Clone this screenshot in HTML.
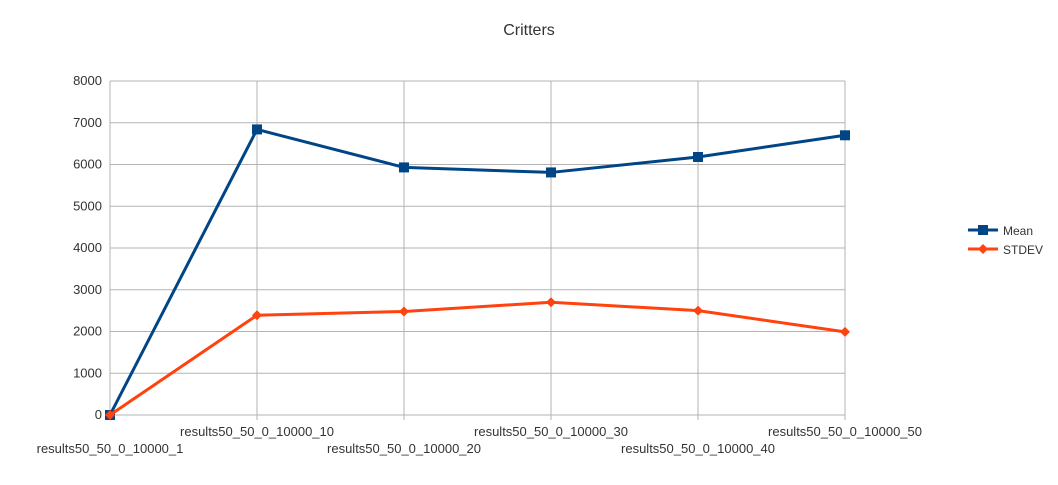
<!DOCTYPE html>
<html><head><meta charset="utf-8"><style>
body{margin:0;background:#fff;font-family:"Liberation Sans",sans-serif;}
svg text{font-family:"Liberation Sans",sans-serif;}
</style></head><body>
<svg id="chart" width="1058" height="480">
<rect width="1058" height="480" fill="#fff"/>
<text x="529" y="35" text-anchor="middle" font-size="16" fill="#333">Critters</text>
<g id="grid"></g><g id="axes"></g><g id="series"></g>
<g>
<g>
<line x1="968" y1="230" x2="998" y2="230" stroke="#004586" stroke-width="3"/>
<rect x="978" y="225" width="10" height="10" fill="#004586"/>
<text x="1003" y="235" font-size="12" fill="#333">Mean</text></g>
<g>
<line x1="968" y1="249" x2="998" y2="249" stroke="#ff420e" stroke-width="3"/>
<polygon points="983,244 988,249 983,254 978,249" fill="#ff420e"/>
<text x="1003" y="254" font-size="12" fill="#333">STDEV</text></g>
</g>
</svg>
<script>
const categories=["results50_50_0_10000_1","results50_50_0_10000_10","results50_50_0_10000_20","results50_50_0_10000_30","results50_50_0_10000_40","results50_50_0_10000_50"];
const meanValues=[0,6840,5930,5810,6180,6700];
const stdevValues=[0,2390,2480,2700,2500,1990];
const yTicks=[0,1000,2000,3000,4000,5000,6000,7000,8000];
const NS="http://www.w3.org/2000/svg";
const x0=110,x1=845,yb=415,yt=81,yMax=8000;
const xPos=i=>x0+i*(x1-x0)/(categories.length-1);
const yPos=v=>yb-v/yMax*(yb-yt);
function mk(tag,attrs,parent){const e=document.createElementNS(NS,tag);for(const k in attrs)e.setAttribute(k,attrs[k]);parent.appendChild(e);return e;}
const grid=document.getElementById('grid'),axes=document.getElementById('axes'),ser=document.getElementById('series');
yTicks.forEach(t=>{
 const l=mk('line',{x1:x0,x2:x1,y1:yPos(t),y2:yPos(t),stroke:'#b3b3b3','stroke-width':1},grid);
 
 
 const tx=mk('text',{x:x0-8,y:yPos(t)+4,'text-anchor':'end','font-size':13,fill:'#333'},axes);
 tx.textContent=t;
 
 
});
categories.forEach((c,i)=>{
 const l=mk('line',{x1:xPos(i),x2:xPos(i),y1:yt,y2:yb+5,stroke:'#b3b3b3','stroke-width':1},grid);
 
 
 const tx=mk('text',{x:xPos(i),y:i%2?436:453,'text-anchor':'middle','font-size':13,fill:'#333'},axes);
 tx.textContent=c;
 
 
});
function series(vals,color,name,marker){
 const pts=vals.map((v,i)=>xPos(i)+','+yPos(v)).join(' ');
 const p=mk('polyline',{points:pts,fill:'none',stroke:color,'stroke-width':3,'stroke-linejoin':'round'},ser);
 
 
 vals.forEach((v,i)=>{
  const x=xPos(i),y=yPos(v);let m;
  if(marker==='square')m=mk('rect',{x:x-5,y:y-5,width:10,height:10,fill:color},ser);
  else m=mk('polygon',{points:`${x},${y-5} ${x+5},${y} ${x},${y+5} ${x-5},${y}`,fill:color},ser);
  
  
 });
}
series(meanValues,'#004586','mean','square');
series(stdevValues,'#ff420e','stdev','diamond');
</script>
</body></html>
